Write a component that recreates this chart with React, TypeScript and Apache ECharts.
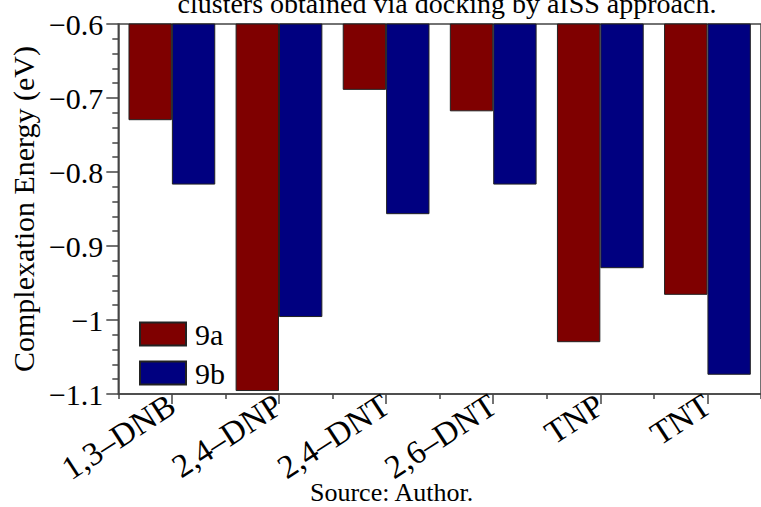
import React, { useEffect, useRef } from "react";
import * as echarts from "echarts";

const categories = ["1,3–DNB", "2,4–DNP", "2,4–DNT", "2,6–DNT", "TNP", "TNT"];
const series9a = [-0.73, -1.096, -0.689, -0.718, -1.03, -0.966];
const series9b = [-0.817, -0.996, -0.857, -0.817, -0.93, -1.074];
const seriesNames = ["9a", "9b"];
const yMin = -1.1;
const yMax = -0.6;
const yStep = 0.1;
const titleText = "clusters obtained via docking by aISS approach.";
const sourceText = "Source: Author.";
const yAxisName = "Complexation Energy (eV)";

const FONT = "Liberation Serif";

export default function App() {
  const ref = useRef<HTMLDivElement>(null);
  useEffect(() => {
    if (!ref.current) return;
    const chart = echarts.init(ref.current, undefined, { renderer: "svg" });
    const barItem = (color: string) => ({ color, borderColor: "#222", borderWidth: 1 });
    chart.setOption({
      animation: false,
      backgroundColor: "#fff",
      textStyle: { fontFamily: FONT, color: "#000" },
      grid: {
        left: 118,
        top: 24,
        height: 370,
        width: 654,
        show: true,
        borderColor: "#444",
        borderWidth: 1.5,
        backgroundColor: "transparent",
      },
      legend: {
        orient: "vertical",
        left: 139,
        top: 319,
        padding: 0,
        itemWidth: 46,
        itemHeight: 23,
        itemGap: 9,
        icon: "rect",
        data: seriesNames,
        textStyle: { fontFamily: FONT, fontSize: 30, color: "#000", lineHeight: 23, padding: [0, 0, 0, 4] },
      },
      xAxis: [
        {
          type: "category",
          data: categories,
          axisLine: { show: true, lineStyle: { color: "#444", width: 1.5 } },
          axisTick: { show: true, alignWithLabel: true, length: 10, lineStyle: { color: "#444", width: 1.5 } },
          axisLabel: {
            rotate: 33,
            margin: 8,
            fontFamily: FONT,
            fontSize: 33,
            color: "#000",
            interval: 0,
          },
        },
        {
          type: "category",
          data: categories,
          position: "bottom",
          axisLine: { show: false },
          axisTick: { show: true, length: 5, lineStyle: { color: "#444", width: 1.5 } },
          axisLabel: { show: false },
        },
      ],
      yAxis: {
        type: "value",
        min: yMin,
        max: yMax,
        interval: yStep,
        name: yAxisName,
        nameLocation: "middle",
        nameGap: 71,
        nameTextStyle: { fontFamily: FONT, fontSize: 30, color: "#000" },
        axisLine: { show: true, lineStyle: { color: "#444", width: 1.5 } },
        axisTick: { show: true, length: 12, lineStyle: { color: "#444", width: 1.5 } },
        minorTick: { show: true, splitNumber: 5, length: 6, lineStyle: { color: "#444", width: 1.5 } },
        splitLine: { show: false },
        axisLabel: {
          margin: 15,
          fontFamily: FONT,
          fontSize: 30,
          color: "#000",
          formatter: (v: number) => String(Math.round(v * 10) / 10).replace("-", "−"),
        },
      },
      series: [
        {
          name: seriesNames[0],
          type: "bar",
          data: series9a,
          barGap: "0%",
          barCategoryGap: "19%",
          itemStyle: barItem("#7f0000"),
        },
        {
          name: seriesNames[1],
          type: "bar",
          data: series9b,
          barGap: "0%",
          barCategoryGap: "19%",
          itemStyle: barItem("#000080"),
        },
      ],
      graphic: [
        {
          type: "text",
          x: 447,
          y: -11,
          style: { text: titleText, fontFamily: FONT, fontSize: 28, fill: "#000", align: "center" },
        },
        {
          type: "text",
          left: 310,
          top: 479,
          style: { text: sourceText, fontFamily: FONT, fontSize: 26, fill: "#000" },
        },
      ],
    });
    return () => chart.dispose();
  }, []);
  return <div ref={ref} style={{ width: 761, height: 507, position: "absolute", left: 0, top: 0 }} />;
}
